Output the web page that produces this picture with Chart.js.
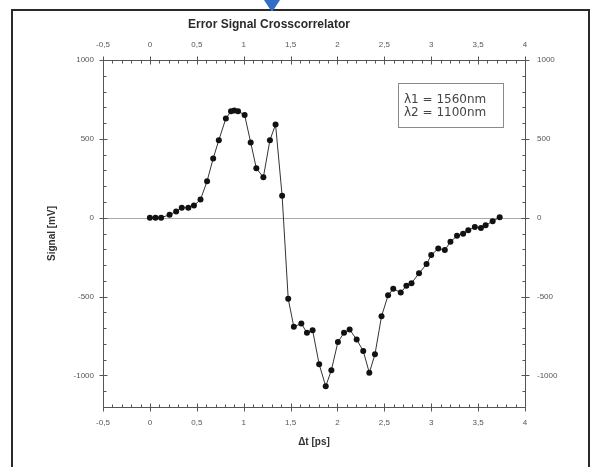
<!DOCTYPE html>
<html>
<head>
<meta charset="utf-8">
<script src="https://cdn.jsdelivr.net/npm/chart.js@4/dist/chart.umd.min.js"></script>
<style>
html,body{margin:0;padding:0;background:#fff;}
#wrap{position:relative;width:592px;height:467px;overflow:hidden;background:#fff;}
#frame{position:absolute;left:11px;top:9px;width:579px;height:470px;border:2px solid #2a2a2a;box-sizing:border-box;}
#pin{position:absolute;left:264px;top:0;width:16px;height:11px;background:#2f6fc6;clip-path:polygon(0 0,100% 0,55% 100%,45% 100%);}
canvas{position:absolute;left:0;top:0;}
</style>
</head>
<body>
<div id="wrap"><div id="frame"></div><div id="pin"></div><canvas id="c" width="592" height="467"></canvas></div>
<script>
// ---- data ----
const delayPs = [0, 0.06, 0.12, 0.21, 0.28, 0.34, 0.41, 0.47, 0.54, 0.61, 0.675, 0.735, 0.81, 0.865, 0.9, 0.94, 1.01, 1.075, 1.135, 1.21, 1.28, 1.34, 1.41, 1.475, 1.535, 1.615, 1.675, 1.735, 1.805, 1.875, 1.935, 2.005, 2.07, 2.13, 2.205, 2.275, 2.34, 2.40, 2.47, 2.54, 2.595, 2.675, 2.735, 2.79, 2.87, 2.95, 3.0, 3.075, 3.145, 3.205, 3.275, 3.34, 3.395, 3.465, 3.53, 3.58, 3.655, 3.73];
const signalMv = [0, 0, 0, 19, 40, 63, 63, 78, 115, 232, 376, 492, 629, 675, 680, 675, 652, 477, 314, 256, 492, 591, 140, -514, -692, -671, -730, -713, -929, -1069, -967, -788, -730, -709, -772, -845, -983, -866, -625, -492, -451, -474, -432, -415, -352, -294, -237, -195, -205, -153, -115, -101, -80, -58, -65, -48, -23, 3];
const xRange = [-0.5, 4];
const yRange = [-1200, 1000];
const xTickValues = [-0.5, 0, 0.5, 1, 1.5, 2, 2.5, 3, 3.5, 4];
const xTickLabels = ['-0,5', '0', '0,5', '1', '1,5', '2', '2,5', '3', '3,5', '4'];
const yTickValues = [-1000, -500, 0, 500, 1000];
const yTickLabels = ['-1000', '-500', '0', '500', '1000'];
const xMinorStep = 0.1, yMinorStep = 100;
const chartTitle = 'Error Signal Crosscorrelator';
const xTitle = 'Δt [ps]';
const yTitle = 'Signal [mV]';
const noteLines = ['λ1 = 1560nm', 'λ2 = 1100nm'];

const points = delayPs.map((x, i) => ({x: x, y: signalMv[i]}));
const tickFont = {family: 'Liberation Sans', size: 8};
const tickColor = '#555';

function fixSize(w, h) {
  return function (scale) { if (w != null) scale.width = w; if (h != null) scale.height = h; };
}
function setTicks(values) {
  return function (scale) { scale.ticks = values.map(v => ({value: v})); };
}
function labelFrom(values, labels) {
  return function (v) { const i = values.findIndex(t => Math.abs(t - v) < 1e-9); return i >= 0 ? labels[i] : ''; };
}
function isIn(values, v) { return values.some(t => Math.abs(t - v) < 1e-6); }

const decor = {
  id: 'decor',
  beforeDatasetsDraw(chart) {
    const {ctx, chartArea: a, scales} = chart;
    const y0 = Math.round(scales.y.getPixelForValue(0)) + 0.5;
    ctx.save();
    ctx.strokeStyle = '#a8a8a8';
    ctx.lineWidth = 1;
    ctx.beginPath(); ctx.moveTo(a.left, y0); ctx.lineTo(a.right, y0); ctx.stroke();
    ctx.restore();
  },
  afterDraw(chart) {
    const {ctx, chartArea: a, scales} = chart;
    ctx.save();
    ctx.strokeStyle = '#555';
    ctx.lineWidth = 1;
    const L = Math.round(a.left) + 0.5, R = Math.round(a.right) + 0.5;
    const T = Math.round(a.top) + 0.5, B = Math.round(a.bottom) + 0.5;
    ctx.strokeRect(L, T, R - L, B - T);
    ctx.beginPath();
    const nx = Math.round((xRange[1] - xRange[0]) / xMinorStep);
    for (let i = 0; i <= nx; i++) {
      const v = xRange[0] + i * xMinorStep;
      const major = isIn(xTickValues, v);
      const px = Math.round(scales.x.getPixelForValue(v)) + 0.5;
      const inL = major ? 4 : 3, outL = major ? 4 : 0;
      ctx.moveTo(px, B + outL); ctx.lineTo(px, B - inL);
      ctx.moveTo(px, T - outL); ctx.lineTo(px, T + inL);
    }
    const ny = Math.round((yRange[1] - yRange[0]) / yMinorStep);
    for (let i = 0; i <= ny; i++) {
      const v = yRange[0] + i * yMinorStep;
      const major = isIn(yTickValues, v);
      const py = Math.round(scales.y.getPixelForValue(v)) + 0.5;
      const inL = major ? 4 : 3, outL = major ? 4 : 0;
      ctx.moveTo(L - outL, py); ctx.lineTo(L + inL, py);
      ctx.moveTo(R + outL, py); ctx.lineTo(R - inL, py);
    }
    ctx.stroke();
    ctx.fillStyle = '#2a2a2a';
    ctx.font = 'bold 12px "Liberation Sans"';
    ctx.textAlign = 'center';
    ctx.textBaseline = 'middle';
    ctx.fillText(chartTitle, 269, 25);
    ctx.strokeStyle = '#8a8a8a';
    ctx.strokeRect(398.5, 83.5, 105, 44);
    ctx.fillStyle = '#444';
    ctx.font = '12px "DejaVu Sans"';
    ctx.textAlign = 'left';
    ctx.fillText(noteLines[0], 404, 100);
    ctx.fillText(noteLines[1], 404, 113);
    ctx.restore();
  }
};

const xTickOpts = (pad) => ({callback: labelFrom(xTickValues, xTickLabels), font: tickFont, color: tickColor, padding: pad, maxRotation: 0, autoSkip: false});
const yTickOpts = (pad) => ({callback: labelFrom(yTickValues, yTickLabels), font: tickFont, color: tickColor, padding: pad, autoSkip: false});
const noGrid = {display: false, drawTicks: false};

new Chart(document.getElementById('c'), {
  type: 'scatter',
  data: {
    datasets: [{
      data: points,
      showLine: true,
      borderColor: '#333',
      borderWidth: 1,
      pointRadius: 3,
      pointBackgroundColor: '#111',
      pointBorderColor: '#111',
      pointBorderWidth: 0,
      tension: 0
    }]
  },
  options: {
    responsive: false,
    animation: false,
    layout: {padding: 0},
    plugins: {legend: {display: false}, title: {display: false}, tooltip: {enabled: false}},
    scales: {
      x: {
        type: 'linear', position: 'bottom', min: xRange[0], max: xRange[1],
        grid: noGrid, border: {display: false}, ticks: xTickOpts(11),
        afterBuildTicks: setTicks(xTickValues),
        title: {display: true, text: xTitle, font: {family: 'Liberation Sans', size: 10, weight: 'bold'}, color: '#333', padding: {top: 0, bottom: 19}},
        afterFit: fixSize(null, 60)
      },
      x2: {
        type: 'linear', position: 'top', min: xRange[0], max: xRange[1],
        grid: noGrid, border: {display: false}, ticks: xTickOpts(10),
        afterBuildTicks: setTicks(xTickValues),
        afterFit: fixSize(null, 60)
      },
      y: {
        type: 'linear', position: 'left', min: yRange[0], max: yRange[1],
        grid: noGrid, border: {display: false}, ticks: yTickOpts(9),
        afterBuildTicks: setTicks(yTickValues),
        title: {display: true, text: yTitle, font: {family: 'Liberation Sans', size: 10, weight: 'bold'}, color: '#333', padding: {top: 46, bottom: 0}},
        afterFit: fixSize(103, null)
      },
      y2: {
        type: 'linear', position: 'right', min: yRange[0], max: yRange[1],
        grid: noGrid, border: {display: false}, ticks: yTickOpts(12),
        afterBuildTicks: setTicks(yTickValues),
        afterFit: fixSize(67, null)
      }
    }
  },
  plugins: [decor]
});
</script>
</body>
</html>
